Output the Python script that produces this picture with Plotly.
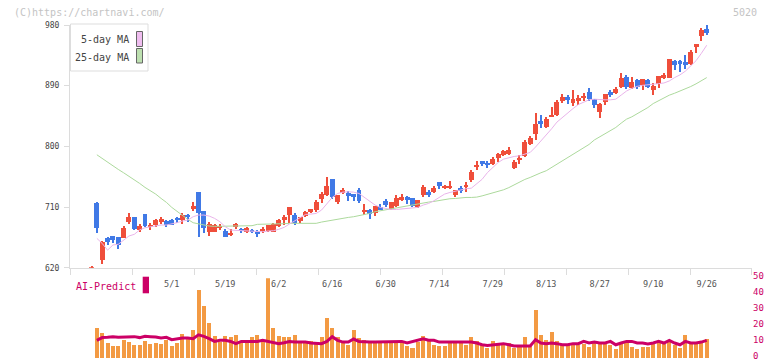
import plotly.graph_objects as go

# ---------------- data ----------------
labels = ["5/1", "5/19", "6/2", "6/16", "6/30", "7/14", "7/29", "8/13", "8/27", "9/10", "9/26"]
label_pos = [15, 25, 35, 45, 55, 65, 75, 85, 95, 105, 115]

opens = [600, 716.4, 631.4, 664.0, 667.0, 665.0, 664.0, 687.2, 695.1, 675.9,
         699.6, 679.8, 682.8, 687.2, 689.2, 690.7, 693.2, 690.7, 698.1, 707.0,
         732.2, 704.0, 673.4, 673.4, 679.8, 674.9, 668.5, 679.8, 677.4, 673.4,
         675.9, 673.4, 675.4, 674.4, 673.4, 681.8, 691.2, 697.6, 698.1, 689.2,
         696.6, 702.5, 705.5, 722.3, 727.7, 751.4, 717.3, 730.6, 730.6, 729.2,
         735.1, 704.0, 705.5, 701.5, 709.9, 718.8, 707.0, 711.4, 720.3, 724.7,
         723.2, 709.9, 727.7, 732.1, 732.1, 746.9, 738.0, 739.5, 727.7, 738.5,
         739.5, 749.9, 769.7, 778.0, 775.1, 773.6, 783.0, 787.0, 788.4, 768.2,
         780.0, 785.5, 803.3, 818.6, 837.4, 828.5, 843.3, 846.3, 867.0, 872.9,
         864.0, 867.0, 871.4, 880.3, 870.0, 850.7, 865.5, 880.3, 878.8, 887.8,
         902.6, 886.3, 898.1, 890.7, 898.1, 883.3, 892.2, 902.6, 901.1, 926.3,
         926.3, 924.8, 921.8, 948.5, 963.3, 973.7]
highs = [622, 717.0, 660.1, 665.0, 667.5, 665.5, 681.8, 701.1, 695.6, 684.8,
         700.0, 685.8, 692.2, 695.1, 690.7, 692.2, 695.1, 701.6, 699.6, 717.4,
         732.5, 704.5, 687.7, 684.8, 684.8, 676.9, 677.4, 686.3, 679.3, 680.8,
         677.4, 675.4, 680.8, 683.8, 685.8, 692.2, 697.6, 710.5, 700.6, 695.5,
         704.0, 707.5, 720.3, 732.6, 754.8, 752.0, 728.0, 738.0, 733.6, 730.0,
         738.0, 714.3, 707.0, 711.4, 714.8, 721.3, 717.3, 727.7, 729.2, 726.2,
         723.5, 721.0, 742.5, 735.1, 741.0, 747.2, 742.5, 748.4, 736.0, 741.0,
         747.0, 764.7, 778.0, 778.3, 778.0, 784.0, 789.9, 794.3, 798.8, 779.5,
         787.0, 809.2, 815.1, 849.2, 846.3, 843.3, 858.1, 868.5, 877.4, 875.9,
         883.3, 875.9, 878.8, 886.3, 870.3, 864.1, 877.7, 883.3, 887.8, 908.5,
         905.5, 902.6, 899.6, 899.9, 899.6, 893.7, 904.3, 908.5, 929.5, 927.7,
         927.7, 935.1, 942.5, 951.7, 975.1, 981.0]
lows = [596, 671.9, 626.0, 654.2, 657.1, 648.2, 663.5, 684.8, 675.9, 673.4,
        679.8, 676.4, 680.8, 684.8, 679.8, 682.8, 685.8, 684.8, 688.2, 704.5,
        666.0, 671.0, 667.5, 673.0, 675.9, 666.0, 667.0, 677.9, 671.0, 671.4,
        671.0, 665.0, 671.9, 672.9, 672.9, 679.8, 683.3, 686.8, 682.8, 685.7,
        694.6, 700.5, 703.0, 716.3, 726.2, 721.3, 714.3, 729.2, 718.8, 718.8,
        716.3, 698.0, 692.6, 696.6, 705.5, 710.4, 705.5, 709.9, 718.8, 714.3,
        709.9, 708.4, 724.7, 724.7, 730.6, 736.6, 736.6, 736.6, 724.7, 730.6,
        732.0, 747.4, 764.7, 771.1, 768.2, 772.1, 777.0, 785.5, 787.0, 766.2,
        773.6, 784.5, 801.3, 809.0, 827.5, 827.5, 843.0, 844.3, 865.0, 862.6,
        859.6, 861.1, 867.0, 867.0, 856.6, 841.8, 861.1, 872.9, 877.4, 886.3,
        884.8, 884.8, 884.8, 883.3, 886.3, 875.9, 886.3, 899.6, 900.8, 912.9,
        910.0, 914.4, 920.3, 938.1, 955.9, 964.8]
closes = [621, 679.3, 658.6, 658.1, 661.1, 653.7, 678.8, 695.1, 677.9, 682.3,
          681.8, 682.8, 690.7, 692.2, 683.3, 683.3, 691.7, 698.1, 695.6, 711.4,
          701.6, 679.3, 684.8, 683.3, 681.3, 666.0, 671.9, 684.8, 674.9, 679.3,
          673.4, 669.5, 676.4, 682.8, 684.8, 691.2, 695.1, 710.0, 686.8, 695.0,
          702.5, 706.9, 717.3, 729.7, 741.0, 724.2, 727.7, 735.1, 726.2, 724.7,
          718.8, 706.0, 700.0, 711.4, 707.0, 712.9, 717.3, 723.2, 724.7, 721.8,
          711.4, 720.3, 739.5, 727.7, 738.0, 741.0, 741.0, 741.0, 735.1, 733.6,
          743.0, 761.8, 772.1, 774.1, 773.1, 781.0, 788.4, 792.9, 794.3, 777.1,
          782.5, 806.2, 811.7, 832.9, 833.4, 840.3, 846.3, 865.5, 872.9, 870.0,
          870.0, 871.4, 874.4, 870.0, 861.1, 862.6, 877.4, 877.4, 884.8, 901.1,
          887.8, 895.1, 887.8, 899.6, 887.8, 889.2, 904.0, 905.5, 929.2, 920.3,
          921.8, 920.3, 939.6, 951.4, 972.2, 967.7]

ma5 = [None, 663.5, 656.0, 646.0, 653.7, 654.7, 661.1, 667.0, 669.5, 676.0,
       679.3, 680.8, 681.8, 683.3, 683.3, 684.8, 686.8, 689.2, 690.7, 695.6,
       698.1, 698.1, 696.6, 693.2, 688.2, 680.8, 675.9, 675.4, 674.9, 674.4,
       674.9, 674.4, 673.4, 674.4, 674.9, 676.9, 679.8, 684.8, 689.2, 694.0,
       699.0, 699.5, 700.5, 705.5, 715.3, 724.2, 730.1, 732.1, 732.6, 732.1,
       730.1, 724.2, 717.8, 712.9, 709.4, 707.4, 706.4, 706.4, 706.9, 707.4,
       708.4, 709.4, 712.9, 715.3, 719.3, 724.2, 729.2, 731.6, 733.6, 736.1,
       737.1, 738.0, 744.0, 751.0, 761.0, 769.0, 776.0, 781.0, 783.5, 785.0,
       786.0, 788.0, 791.0, 799.0, 808.0, 816.0, 826.0, 836.0, 843.0, 850.0,
       856.0, 862.0, 866.0, 869.0, 870.0, 869.0, 869.0, 869.0, 870.0, 876.0,
       882.0, 886.0, 889.0, 890.5, 891.0, 892.0, 893.0, 894.0, 897.0, 902.0,
       906.0, 911.5, 919.0, 927.0, 938.0, 950.0]
ma25 = [None, 787.5, 782.0, 775.6, 770.7, 765.8, 760.8, 755.9, 751.0, 745.0,
        739.1, 734.2, 729.2, 722.8, 716.9, 709.5, 703.1, 697.1, 691.7, 686.7,
        684.8, 682.8, 681.8, 681.3, 681.3, 681.8, 681.8, 681.8, 681.8, 682.3,
        682.3, 684.3, 684.3, 684.3, 684.8, 684.8, 685.3, 685.8, 685.8, 685.8,
        685.8, 685.8, 685.8, 687.7, 689.2, 690.6, 692.6, 693.6, 694.6, 695.6,
        697.1, 698.5, 700.5, 703.0, 704.5, 706.0, 707.4, 709.4, 710.9, 712.4,
        713.4, 714.4, 715.8, 717.3, 718.3, 719.8, 721.3, 722.3, 722.7, 723.7,
        724.2, 724.2, 724.7, 726.5, 728.7, 731.0, 733.0, 735.5, 738.8, 743.0,
        747.2, 750.9, 753.9, 756.8, 760.8, 763.8, 768.7, 773.6, 777.6, 783.0,
        788.0, 793.4, 798.3, 802.8, 809.5, 814.0, 819.0, 823.0, 828.0, 834.4,
        840.3, 843.8, 848.2, 852.2, 857.6, 863.5, 868.0, 871.4, 875.9, 878.8,
        881.8, 884.8, 888.7, 892.7, 897.6, 902.0]

volume = [None, 18.9, 15.7, 9.2, 7.5, 7.5, 11.1, 10.0, 7.9, 7.9,
          10.4, 8.5, 9.4, 8.7, 11.1, 7.5, 9.2, 14.9, 12.1, 17.6,
          42.7, 32.6, 21.8, 13.6, 10.0, 13.6, 12.7, 14.2, 10.4, 10.4,
          13.2, 14.2, 10.0, 50.0, 18.9, 13.6, 12.7, 13.2, 14.2, 10.4,
          9.0, 10.4, 10.0, 13.2, 24.6, 18.9, 12.7, 10.0, 7.9, 17.4,
          12.1, 11.1, 10.0, 10.0, 10.0, 10.0, 10.0, 10.0, 10.0, 7.5,
          6.3, 10.0, 13.6, 10.4, 7.9, 7.3, 7.3, 10.0, 10.0, 10.6,
          7.9, 12.7, 10.4, 7.9, 6.3, 10.4, 7.9, 7.9, 9.4, 6.3,
          7.3, 12.7, 7.3, 30.0, 14.2, 11.1, 16.1, 10.4, 7.9, 7.9,
          9.4, 7.9, 8.3, 6.9, 9.4, 8.3, 10.0, 7.9, 5.7, 9.0,
          10.0, 6.9, 5.7, 6.9, 6.9, 9.4, 10.4, 8.3, 10.0, 7.9,
          6.3, 14.2, 8.3, 9.0, 10.0, 11.6]
ai_predict = [None, 11.1, 12.8, 13.0, 13.4, 13.0, 13.0, 13.2, 13.4, 12.8,
              13.6, 13.4, 13.2, 12.5, 13.0, 11.5, 12.1, 12.5, 12.5, 12.1,
              14.5, 13.6, 12.1, 10.4, 11.1, 11.1, 10.4, 9.0, 10.4, 10.4,
              10.4, 10.4, 11.1, 10.4, 9.6, 9.0, 9.6, 10.4, 10.0, 10.0,
              10.0, 9.4, 9.0, 9.0, 10.4, 13.4, 11.1, 10.0, 10.0, 11.9,
              10.4, 10.0, 10.0, 10.0, 10.0, 10.0, 10.0, 10.2, 10.4, 9.4,
              10.4, 11.1, 12.1, 11.1, 11.1, 10.0, 10.0, 10.0, 10.0, 10.4,
              10.0, 10.0, 9.4, 8.3, 7.9, 8.3, 8.3, 9.0, 8.3, 7.6,
              7.6, 7.6, 7.6, 11.5, 9.4, 9.0, 9.4, 9.0, 8.3, 8.3,
              9.0, 9.0, 10.4, 9.4, 10.0, 9.4, 9.4, 10.4, 8.3, 9.4,
              10.4, 10.4, 9.4, 9.4, 8.8, 9.4, 10.4, 9.4, 11.1, 9.4,
              8.3, 10.4, 9.4, 9.4, 10.0, 11.1]

# ---------------- styling ----------------
W, H = 772, 361
ML, MR, MT, MB = 70, 20, 25, 3
PW, PH = W - ML - MR, H - MT - MB
RED, BLUE = "#ef4e3b", "#4079e6"
MONO = "DejaVu Sans Mono"


def px(xp):
    return (xp - ML) / PW


def py(yp):
    return (H - MB - yp) / PH


idx = list(range(len(closes)))
colors = [RED if c >= o else BLUE for o, c in zip(opens, closes)]
body_base = [min(o, c) for o, c in zip(opens, closes)]
body_len = [max(abs(c - o), 1.1) for o, c in zip(opens, closes)]
wick_len = [h - l for h, l in zip(highs, lows)]

x_range = [-4.02, 123.46]
price_dom = [py(267.7), 1.0]
vol_dom = [0.0, py(278.3)]

fig = go.Figure()

fig.add_trace(go.Scatter(x=idx, y=ma25, mode="lines", line=dict(color="#acd99c", width=1),
                         hoverinfo="skip", xaxis="x", yaxis="y"))
fig.add_trace(go.Scatter(x=idx, y=ma5, mode="lines", line=dict(color="#e9b4ea", width=1),
                         hoverinfo="skip", xaxis="x", yaxis="y"))
fig.add_trace(go.Bar(x=idx, y=wick_len, base=lows, width=0.19, marker=dict(color=colors, line=dict(width=0)),
                     xaxis="x", yaxis="y"))
fig.add_trace(go.Bar(x=idx, y=body_len, base=body_base, width=0.93, marker=dict(color=colors, line=dict(width=0)),
                     xaxis="x", yaxis="y"))

fig.add_trace(go.Bar(x=idx, y=volume, width=0.75, marker=dict(color="#f39a43", line=dict(width=0)),
                     xaxis="x2", yaxis="y2"))
fig.add_trace(go.Scatter(x=idx, y=ai_predict, mode="lines", line=dict(color="#cc0066", width=3),
                         xaxis="x2", yaxis="y2"))

# invisible trace to carry the date-label axis
fig.add_trace(go.Scatter(x=[label_pos[0]], y=[None], xaxis="x3", yaxis="y", showlegend=False,
                         hoverinfo="skip"))

fig.update_layout(
    width=W, height=H, margin=dict(l=ML, r=MR, t=MT, b=MB, autoexpand=False),
    paper_bgcolor="white", plot_bgcolor="white",
    showlegend=False, barmode="overlay", bargap=0,
    font=dict(family=MONO, color="#444"),
    xaxis=dict(domain=[0, 1], range=x_range, anchor="y", showgrid=False, zeroline=False,
               showline=True, linecolor="#dcdcdc", linewidth=1, automargin=False,
               ticks="outside", ticklen=6, tickcolor="#dcdcdc", tickwidth=1,
               tickmode="linear", tick0=-4.02, dtick=11.589, showticklabels=False),
    xaxis3=dict(overlaying="x", anchor="y", side="bottom", range=x_range, showgrid=False,
                zeroline=False, showline=False, tickmode="array", tickvals=label_pos,
                ticktext=labels, ticks="", ticklabelstandoff=10,
                automargin=False, tickfont=dict(family=MONO, size=8.5, color="#555")),
    yaxis=dict(domain=price_dom, range=[620, 980], anchor="x", showgrid=False, zeroline=False,
               showline=True, linecolor="#dcdcdc", linewidth=1, automargin=False,
               ticks="outside", ticklen=5, tickcolor="#dcdcdc", ticklabeloverflow="allow",
               tickmode="array", tickvals=[620, 710, 800, 890, 980],
               tickfont=dict(family=MONO, size=8, color="#444"), ticklabelstandoff=3),
    xaxis2=dict(domain=[0, 1], range=x_range, anchor="y2", visible=False, automargin=False),
    yaxis2=dict(domain=vol_dom, range=[0, 50], anchor="x2", side="right", showgrid=False,
                zeroline=False, showline=False, ticks="", tickmode="array", automargin=False,
                tickvals=[0, 10, 20, 30, 40, 50], ticklabeloverflow="allow", ticklabelshift=-2,
                tickfont=dict(family=MONO, size=9, color="#cc0066")),
)

shapes = [
    dict(type="rect", xref="paper", yref="paper", x0=px(70.5), x1=px(148), y0=py(71), y1=py(24),
         line=dict(color="#dddddd", width=1), fillcolor="white", layer="above"),
    dict(type="rect", xref="paper", yref="paper", x0=px(136.5), x1=px(142.5), y0=py(46.5), y1=py(31.5),
         line=dict(color="#666666", width=1), fillcolor="#efbdef", layer="above"),
    dict(type="rect", xref="paper", yref="paper", x0=px(136.5), x1=px(142.5), y0=py(63), y1=py(48.5),
         line=dict(color="#666666", width=1), fillcolor="#bde0b0", layer="above"),
    dict(type="rect", xref="paper", yref="paper", x0=px(142.7), x1=px(149), y0=py(293.3), y1=py(276.7),
         line=dict(width=0), fillcolor="#cc0066", layer="above"),
]
fig.update_layout(shapes=shapes)

ann = [
    dict(text="5-day MA", x=px(130), y=py(40), xanchor="right", yanchor="middle",
         font=dict(family=MONO, size=10, color="#444")),
    dict(text="25-day MA", x=px(130), y=py(57), xanchor="right", yanchor="middle",
         font=dict(family=MONO, size=10, color="#444")),
    dict(text="AI-Predict", x=px(75), y=py(286), xanchor="left", yanchor="middle",
         font=dict(family=MONO, size=10, color="#cc0066")),
    dict(text="(C)https://chartnavi.com/", x=px(13), y=py(12.5), xanchor="left", yanchor="middle",
         font=dict(family=MONO, size=10, color="#c4c4c4")),
    dict(text="5020", x=px(758), y=py(12.5), xanchor="right", yanchor="middle",
         font=dict(family=MONO, size=10, color="#c4c4c4")),
]
for a in ann:
    a.update(xref="paper", yref="paper", showarrow=False, borderpad=0)
fig.update_layout(annotations=ann)

fig.write_html("out.html", config={"displayModeBar": False},
               post_script="document.body.style.margin='0';document.body.style.padding='0';")
